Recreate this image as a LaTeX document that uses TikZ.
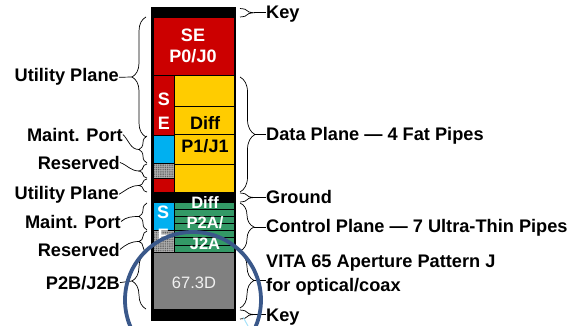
\documentclass[tikz,border=0pt]{standalone}
\usepackage{fontspec}
\setmainfont{Liberation Sans}
\usetikzlibrary{decorations.pathreplacing,patterns.meta}
\definecolor{cred}{RGB}{204,0,0}
\definecolor{cyel}{RGB}{255,204,0}
\definecolor{cblue}{RGB}{0,176,240}
\definecolor{cgreen}{RGB}{51,153,102}
\definecolor{cgray}{RGB}{128,128,128}
\definecolor{cpat}{RGB}{175,175,175}
\definecolor{ccirc}{RGB}{58,88,138}
\begin{document}
\begin{tikzpicture}[x=1pt,y=-1pt,
  lbl/.style={font=\fontsize{18.2}{24}\selectfont\bfseries, inner sep=0pt},
  inlbl/.style={font=\fontsize{18}{22}\selectfont\bfseries, inner sep=0pt, anchor=base},
  grlbl/.style={font=\fontsize{16.5}{20}\selectfont\bfseries, inner sep=0pt, anchor=base, text=white},
  cell/.style={draw=black, line width=0.6pt},
  patbox/.style={draw=black, line width=0.6pt, pattern={Dots[distance=1.8pt, radius=0.6pt]}, pattern color=black!65},
  brc/.style={decorate, decoration={brace, amplitude=#1}, line width=0.7pt, draw=black},
  lead/.style={line width=0.7pt, draw=black}]
\useasboundingbox (0,0) rectangle (575,326);

% ---- column ----
\fill[black] (152,8) rectangle (235,17);
\draw[cell, fill=cred] (153,17) rectangle (234,75);
\draw[cell, fill=cred] (153,75) rectangle (174,135);
\draw[cell, fill=cblue] (153,135) rectangle (174,163);
\fill[cpat] (153,163) rectangle (174,178);
\draw[patbox] (153,163) rectangle (174,178);
\draw[cell, fill=cred] (153,178) rectangle (174,192);
\draw[cell, fill=cyel] (174,75) rectangle (234,106);
\draw[cell, fill=cyel] (174,106) rectangle (234,134);
\draw[cell, fill=cyel] (174,134) rectangle (234,164);
\draw[cell, fill=cyel] (174,164) rectangle (234,192);
\fill[black] (152,192) rectangle (235,202);
\draw[cell, fill=cblue] (153,202) rectangle (174,230);
\fill[cpat] (153,230) rectangle (174,252);
\draw[patbox] (153,230) rectangle (174,252);
\foreach \k in {0,...,6}{
  \draw[cell, fill=cgreen] (174,{202+\k*50/7}) rectangle (234,{202+(\k+1)*50/7});
}
\draw[cell, fill=cgray] (153,252) rectangle (234,309);
\fill[black] (152,309) rectangle (235,320);
\draw[black, line width=1.6pt] (152,8) rectangle (235,320);

% ---- cell texts ----
\node[inlbl, text=white] (se) at (193,42) {SE};
\node[inlbl, text=white] (p0) at (193,63) {P0/J0};
\node[inlbl, text=white] (s1) at (164,106) {S};
\node[inlbl, text=white] (e1) at (164,129) {E};
\node[inlbl] (d1) at (205,129) {Diff};
\node[inlbl] (p1) at (205,152) {P1/J1};
\node[grlbl] (d2) at (205,208) {Diff};
\node[grlbl] (p2) at (205,228) {P2A/};
\node[grlbl] (j2) at (205,249) {J2A};
\node[inlbl, text=white] (s2) at (163,218) {S};
\node[inlbl, text=white] (f2) at (163,241) {F};
\node[font=\fontsize{16.5}{20}\selectfont, inner sep=0pt, anchor=base, text=gray!12] (g) at (194,288) {67.3D};

% ---- right braces and labels ----
\node[lbl, anchor=base west] (key1) at (266,19) {Key};
\node[lbl, anchor=base west] (data) at (266,140) {Data Plane — 4 Fat Pipes};
\node[lbl, anchor=base west] (gnd) at (266,203) {Ground};
\node[lbl, anchor=base west] (ctl) at (266,232) {Control Plane — 7 Ultra-Thin Pipes};
\node[lbl, anchor=west, align=left] (vita) at (266,275) {VITA 65 Aperture Pattern J\\for optical/coax};
\node[lbl, anchor=base west] (key2) at (266,321) {Key};

\draw[brc=14] (240,8.5) -- (240,17);
\coordinate (tk1) at (254,12.75);
\draw[lead] (tk1) -- (tk1 -| key1.west);
\draw[brc=15] (240,77) -- (240,192);
\coordinate (tdp) at (255,134.5);
\draw[lead] (tdp) -- (tdp -| data.west);
\draw[brc=14] (240,193) -- (240,202);
\coordinate (tgn) at (254,197.5);
\draw[lead] (tgn) -- (tgn -| gnd.west);
\draw[brc=14] (240,203) -- (240,251);
\coordinate (tct) at (254,227);
\draw[lead] (tct) -- (tct -| ctl.west);
\draw[brc=14] (240,253) -- (240,308);
\coordinate (tvi) at (254,280.5);
\draw[lead] (tvi) -- (tvi -| vita.west);
\draw[brc=14] (240,310) -- (240,319);
\coordinate (tk2) at (254,314.5);
\draw[lead] (tk2) -- (tk2 -| key2.west);

% ---- left braces and labels ----
\node[lbl, anchor=base east] (up1) at (119,82) {Utility Plane};
\node[lbl, anchor=base east] (mp1) at (123,141) {Maint. Port};
\node[lbl, anchor=base east] (rs1) at (120,169) {Reserved};
\node[lbl, anchor=base east] (up2) at (119,199) {Utility Plane};
\node[lbl, anchor=base east] (mp2) at (121,228) {Maint. Port};
\node[lbl, anchor=base east] (rs2) at (120,256) {Reserved};
\node[lbl, anchor=base east] (p2b) at (120,289) {P2B/J2B};

\draw[brc=14] (146,137) -- (146,17);
\coordinate (lu1) at (132,77);
\draw[lead] (up1.east) -- (lu1);
\draw[brc=8] (147,163) -- (147,136);
\coordinate (lm1) at (139,149.5);
\draw[lead] (mp1.east) to[out=-45,in=180] (lm1);
\draw[brc=8] (147,178) -- (147,164);
\coordinate (lr1) at (139,171);
\draw[lead] (rs1.east) to[out=-20,in=180] (lr1);
\draw[brc=8] (147,192) -- (147,179);
\coordinate (lu2) at (139,185.5);
\draw[lead] (up2.east) to[out=30,in=180] (lu2);
\draw[brc=8] (147,230) -- (147,203);
\coordinate (lm2) at (139,216.5);
\draw[lead] (mp2.east) to[out=40,in=180] (lm2);
\draw[brc=8] (147,252) -- (147,231);
\coordinate (lr2) at (139,241.5);
\draw[lead] (rs2.east) to[out=40,in=180] (lr2);
\draw[brc=14] (146,309) -- (146,253);
\coordinate (lp2) at (132,281);
\draw[lead] (p2b.east) -- (lp2);

% ---- highlight circle ----
\draw[ccirc, line width=3.8pt] (193,300) circle[radius=68];
\draw[cyan!35, line width=1pt] (243,317) -- (248,326);
\end{tikzpicture}
\end{document}
